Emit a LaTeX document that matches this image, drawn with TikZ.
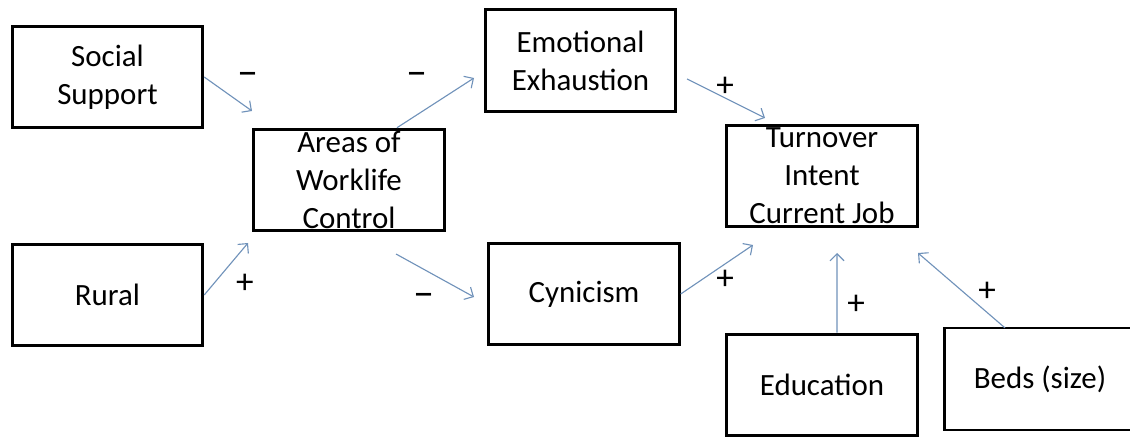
\documentclass[tikz,border=0pt]{standalone}
\usepackage{fontspec}
\setmainfont{Carlito}
\usetikzlibrary{arrows.meta}
\definecolor{linkblue}{RGB}{112,146,186}

\begin{document}
\begin{tikzpicture}[x=0.025cm, y=-0.025cm,
      box/.style={draw, rectangle, line width=2.1pt, minimum width=4.76cm, minimum height=2.54cm, inner sep=0pt, align=center, font=\fontsize{22}{27}\selectfont}, % marcos de las variables
      txt/.style={align=center, inner sep=0pt, font=\fontsize{22}{27}\selectfont},
      link/.style={draw=linkblue, line width=0.8pt, -{Straight Barb[length=5pt, width=10pt]}},
      sign/.style={inner sep=0pt, font=\fontsize{25}{30}\selectfont},
      minus/.style={inner sep=0pt, anchor=base, font=\fontsize{30}{36}\selectfont}
    ]
    \useasboundingbox (0,0) rectangle (1130,438);
    % Variables
    \node [box] (soc) at (107.5,77) {Social\\Support};
    \node [box] (rural) at (107.5,295) {Rural};
    \node [box] (awc) at (349,180) {};
    \node [txt] at (awc) {Areas of\\Worklife\\Control}; % el texto sobresale del marco
    \node [box] (emo) at (580.5,60.5) {Emotional\\Exhaustion};
    \node [box] (cyn) at (584,294) {Cynicism};
    \node [box] (turn) at (822,176) {};
    \node [txt] at (turn) {Turnover\\Intent\\Current Job};
    \node [box] (edu) at (822,385) {Education};
    % el marco de Beds sigue fuera del borde derecho
    \draw [line width=2.1pt] (1300,328) -| (944.5,430) -- (1300,430);
    \node [inner sep=0pt, minimum width=4.76cm, minimum height=2.54cm] (beds) at (1040,379) {};
    \node [txt] at (beds) {Beds (size)};
    % Extremos libres de las flechas
    \coordinate (socEnd) at (252,111);
    \coordinate (ruralEnd) at (248,243);
    \coordinate (emoEnd) at (474,78);
    \coordinate (cynStart) at (396,254);
    \coordinate (cynEnd) at (474,297);
    \coordinate (emoStart) at (687,79);
    \coordinate (turnFromEmo) at (765,118);
    \coordinate (turnFromCyn) at (753,245);
    \coordinate (turnFromEdu) at (837,253);
    \coordinate (turnFromBeds) at (918,253);
    % Flechas
    \draw [link] (soc.east) -- (socEnd);
    \draw [link] (rural.east) -- (ruralEnd);
    \draw [link] ([xshift=1.2cm]awc.north) -- (emoEnd);
    \draw [link] (cynStart) -- (cynEnd);
    \draw [link] (emoStart) -- (turnFromEmo);
    \draw [link] (cyn.east) -- (turnFromCyn);
    \draw [link] ([xshift=0.375cm]edu.north) -- (turnFromEdu);
    \draw [link] ([xshift=-0.875cm]beds.north) -- (turnFromBeds);
    % Signos
    \node [minus] (s1) at (248,86) {--};
    \node [sign] (s2) at (245,284) {+};
    \node [minus] (s3) at (417,86) {--};
    \node [minus] (s4) at (424,307) {--};
    \node [sign] (s5) at (725,87) {+};
    \node [sign] (s6) at (725,280) {+};
    \node [sign] (s7) at (856,305) {+};
    \node [sign] (s8) at (987,292) {+};
\end{tikzpicture}
\end{document}
